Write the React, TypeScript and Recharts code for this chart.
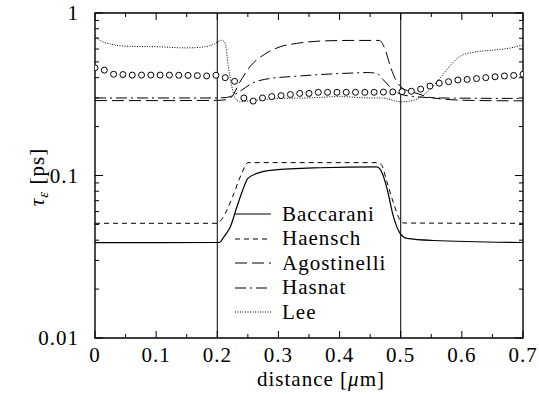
import { LineChart, Line, XAxis, YAxis, ReferenceLine, ReferenceArea, Legend } from 'recharts'

// [distance (um), tau (ps)]
const BACCARANI: [number, number][] = [
  [0, 0.0386], [0.1, 0.0386], [0.2, 0.0387], [0.205, 0.039], [0.209, 0.041], [0.215, 0.044],
  [0.221, 0.048], [0.232, 0.064], [0.242, 0.082], [0.25, 0.096], [0.265, 0.103], [0.291, 0.108],
  [0.368, 0.1116], [0.461, 0.113], [0.47, 0.103], [0.478, 0.082], [0.488, 0.056], [0.499, 0.044],
  [0.51, 0.041], [0.553, 0.0398], [0.7, 0.0387],
]
const HAENSCH: [number, number][] = [
  [0, 0.0508], [0.2, 0.0508], [0.209, 0.055], [0.225, 0.074], [0.24, 0.103], [0.25, 0.12],
  [0.3, 0.12], [0.46, 0.12], [0.468, 0.117], [0.478, 0.09], [0.488, 0.068], [0.499, 0.053],
  [0.505, 0.051], [0.7, 0.0508],
]
const AGOSTINELLI: [number, number][] = [
  [0, 0.289], [0.1, 0.289], [0.2, 0.29], [0.215, 0.293], [0.222, 0.3], [0.237, 0.376],
  [0.254, 0.47], [0.275, 0.55], [0.303, 0.62], [0.33, 0.65], [0.368, 0.672], [0.42, 0.678],
  [0.465, 0.678], [0.475, 0.59], [0.483, 0.47], [0.494, 0.376], [0.505, 0.34], [0.516, 0.33],
  [0.553, 0.3], [0.61, 0.29], [0.7, 0.288],
]
const HASNAT: [number, number][] = [
  [0, 0.3], [0.2, 0.3], [0.215, 0.302], [0.225, 0.31], [0.24, 0.335], [0.257, 0.37],
  [0.277, 0.39], [0.336, 0.41], [0.368, 0.418], [0.42, 0.427], [0.445, 0.43], [0.461, 0.425],
  [0.471, 0.39], [0.488, 0.335], [0.51, 0.31], [0.565, 0.3], [0.7, 0.298],
]
const LEE: [number, number][] = [
  [0, 0.73], [0.008, 0.68], [0.025, 0.645], [0.05, 0.625], [0.1, 0.62], [0.15, 0.61],
  [0.18, 0.62], [0.195, 0.645], [0.207, 0.68], [0.213, 0.65], [0.218, 0.47], [0.224, 0.35],
  [0.229, 0.3], [0.237, 0.284], [0.25, 0.287], [0.3, 0.298], [0.35, 0.3], [0.4, 0.306],
  [0.45, 0.3], [0.47, 0.3], [0.49, 0.288], [0.5, 0.284], [0.515, 0.287], [0.53, 0.3],
  [0.55, 0.345], [0.565, 0.4], [0.58, 0.47], [0.595, 0.535], [0.62, 0.575], [0.65, 0.59],
  [0.68, 0.61], [0.7, 0.635],
]
// circle markers (no legend entry)
const CIRCLES: [number, number][] = [
  [0, 0.46], [0.0152, 0.445], [0.0304, 0.42], [0.0457, 0.418], [0.0609, 0.415], [0.0761, 0.415],
  [0.0913, 0.415], [0.1065, 0.415], [0.1217, 0.415], [0.1370, 0.414], [0.1522, 0.413], [0.1674, 0.412],
  [0.1826, 0.41], [0.1978, 0.414], [0.2130, 0.4], [0.2283, 0.38], [0.2435, 0.3], [0.2587, 0.287],
  [0.2739, 0.3], [0.2891, 0.306], [0.3043, 0.31], [0.3196, 0.315], [0.3348, 0.32], [0.35, 0.32],
  [0.3652, 0.325], [0.3804, 0.325], [0.3957, 0.325], [0.4109, 0.325], [0.4261, 0.325], [0.4413, 0.325],
  [0.4565, 0.325], [0.4717, 0.326], [0.4870, 0.327], [0.5022, 0.328], [0.5174, 0.33], [0.5326, 0.34],
  [0.5478, 0.355], [0.5630, 0.37], [0.5783, 0.378], [0.5935, 0.387], [0.6087, 0.39], [0.6239, 0.395],
  [0.6391, 0.4], [0.6543, 0.405], [0.6696, 0.41], [0.6848, 0.413], [0.7, 0.42],
]

const X_TICKS = [0, 0.05, 0.1, 0.15, 0.2, 0.25, 0.3, 0.35, 0.4, 0.45, 0.5, 0.55, 0.6, 0.65, 0.7]
const Y_TICKS = [
  0.01, 0.02, 0.03, 0.04, 0.05, 0.06, 0.07, 0.08, 0.09,
  0.1, 0.2, 0.3, 0.4, 0.5, 0.6, 0.7, 0.8, 0.9, 1,
]
const Y_MAJOR = [0.01, 0.1, 1]

const SERIES = [
  { name: 'Baccarani', data: BACCARANI, dash: undefined as string | undefined },
  { name: 'Haensch', data: HAENSCH, dash: '5 4' },
  { name: 'Agostinelli', data: AGOSTINELLI, dash: '12 5' },
  { name: 'Hasnat', data: HASNAT, dash: '11 4 2 4' },
  { name: 'Lee', data: LEE, dash: '1 1.5' },
]

const toRows = (pts: [number, number][]) => pts.map(([x, y]) => ({ x, y }))

const FONT = 'Liberation Serif'
const FS = 21
const LS = 1
const TOP = 13
const BOTTOM = 338
const LEFT = 95
const RIGHT = 523

function XTick(props: any) {
  const { x, payload } = props
  const v = payload.value
  const major = Math.abs(v * 10 - Math.round(v * 10)) < 1e-6
  const len = major ? 7 : 4
  return (
    <g>
      <line x1={x} x2={x} y1={BOTTOM} y2={BOTTOM - len} stroke="#000" />
      <line x1={x} x2={x} y1={TOP} y2={TOP + len} stroke="#000" />
      {major && (
        <text x={x} y={362} textAnchor="middle" fontFamily={FONT} fontSize={FS} letterSpacing={LS} fill="#000">
          {String(v)}
        </text>
      )}
    </g>
  )
}

function YTick(props: any) {
  const { y, payload } = props
  const v = payload.value
  const major = Y_MAJOR.includes(v)
  const len = major ? 8 : 4
  return (
    <g>
      <line x1={LEFT} x2={LEFT + len} y1={y} y2={y} stroke="#000" />
      <line x1={RIGHT} x2={RIGHT - len} y1={y} y2={y} stroke="#000" />
      {major && (
        <text x={79} y={y + 7} textAnchor="end" fontFamily={FONT} fontSize={FS} letterSpacing={LS} fill="#000">
          {String(v)}
        </text>
      )}
    </g>
  )
}

function YTitle() {
  return (
    <text x={44} y={177} transform="rotate(-90, 44, 177)" textAnchor="middle" fontFamily={FONT} fontSize={FS} letterSpacing={LS} fill="#000">
      <tspan fontStyle="italic">τ</tspan>
      <tspan fontStyle="italic" fontSize={15} dy={4}>ε</tspan>
      <tspan dy={-4}>{'  [ps]'}</tspan>
    </text>
  )
}

function XTitle() {
  return (
    <text x={321} y={386} textAnchor="middle" fontFamily={FONT} fontSize={FS} letterSpacing={LS} fill="#000">
      distance [<tspan fontStyle="italic">μ</tspan>m]
    </text>
  )
}

function LegendBox() {
  return (
    <div style={{ fontFamily: FONT, fontSize: FS, letterSpacing: LS, color: '#000' }}>
      {SERIES.map((s) => (
        <div key={s.name} style={{ display: 'flex', alignItems: 'center', height: 24.5 }}>
          <svg width={36} height={10} style={{ marginRight: 11 }}>
            <line x1={0} x2={36} y1={5} y2={5} stroke="#000" strokeWidth={1.1} strokeDasharray={s.dash} />
          </svg>
          <span>{s.name}</span>
        </div>
      ))}
    </div>
  )
}

export default function App() {
  return (
    <div style={{ position: 'absolute', left: 0, top: 0, background: '#fff' }}>
      <LineChart width={539} height={394} margin={{ top: TOP, right: 16, left: 0, bottom: 0 }}>
        <XAxis
          type="number"
          dataKey="x"
          domain={[0, 0.7]}
          ticks={X_TICKS}
          interval={0}
          allowDataOverflow
          axisLine={false}
          tickLine={false}
          height={56}
          tick={<XTick />}
          label={<XTitle />}
        />
        <YAxis
          type="number"
          dataKey="y"
          scale="log"
          domain={[0.01, 1]}
          ticks={Y_TICKS}
          interval={0}
          allowDataOverflow
          axisLine={false}
          tickLine={false}
          width={95}
          tick={<YTick />}
          label={<YTitle />}
        />
        <ReferenceArea x1={0} x2={0.7} y1={0.01} y2={1} fill="none" stroke="#000" strokeWidth={1.4} />
        <ReferenceLine x={0.2} stroke="#000" strokeWidth={1} />
        <ReferenceLine x={0.5} stroke="#000" strokeWidth={1} />
        <Line
          data={toRows(CIRCLES)}
          dataKey="y"
          name="circles"
          legendType="none"
          stroke="transparent"
          dot={{ r: 3, fill: '#fff', stroke: '#000', strokeWidth: 1 }}
          isAnimationActive={false}
        />
        {SERIES.map((s) => (
          <Line
            key={s.name}
            data={toRows(s.data)}
            dataKey="y"
            name={s.name}
            type="monotone"
            stroke="#000"
            strokeWidth={s.dash ? 1 : 1.2}
            strokeDasharray={s.dash}
            dot={false}
            isAnimationActive={false}
          />
        ))}
        <Legend
          layout="vertical"
          align="center"
          verticalAlign="middle"
          content={<LegendBox />}
          wrapperStyle={{ left: 235, top: 202, width: 'auto' }}
        />
      </LineChart>
    </div>
  )
}
